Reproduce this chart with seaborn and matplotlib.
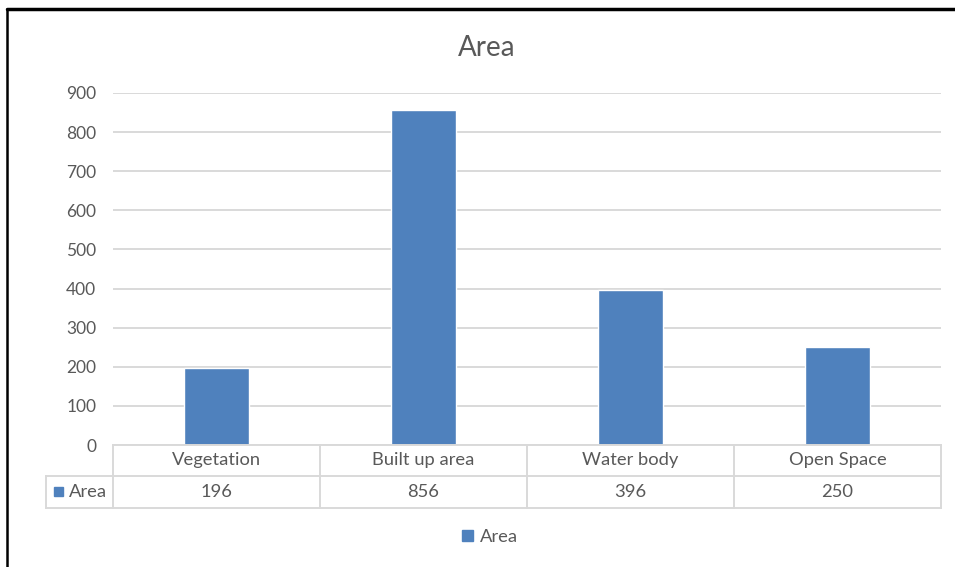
import matplotlib
matplotlib.use("Agg")
import matplotlib.pyplot as plt
import matplotlib.transforms as mtransforms
from matplotlib.lines import Line2D
from matplotlib.patches import Rectangle
import seaborn as sns
import pandas as pd

# Data
categories = ["Vegetation", "Built up area", "Water body", "Open Space"]
area_values = [196, 856, 396, 250]
y_ticks = [0, 100, 200, 300, 400, 500, 600, 700, 800, 900]
series_name = "Area"
chart_title = "Area"

# Styling
BAR = "#4f81bd"
TEXT = "#595959"
GRID = "#d9d9d9"
W, H = 955, 567

sns.set_theme(style="white")
plt.rcParams["font.family"] = ["Lato", "DejaVu Sans"]


def fx(x):
    return x / W


def fy(y):
    return 1 - y / H


fig = plt.figure(figsize=(W / 100, H / 100), dpi=100)
fig.patch.set_facecolor("white")

ax = fig.add_axes([fx(113), fy(445), fx(941) - fx(113), fy(93) - fy(445)])
df = pd.DataFrame({"Category": categories, series_name: area_values})
sns.barplot(data=df, x="Category", y=series_name, color=BAR, saturation=1,
            width=0.314, ax=ax, zorder=3)

ax.set_xlim(-0.5, len(categories) - 0.5)
ax.set_ylim(y_ticks[0], y_ticks[-1])
ax.set_yticks(y_ticks)
ax.set_xticks([])
ax.set_xlabel("")
ax.set_ylabel("")
ax.set_axisbelow(True)
ax.yaxis.grid(True, color=GRID, lw=1.4)
for s in ax.spines.values():
    s.set_visible(False)
ax.tick_params(axis="y", length=0, pad=12, labelsize=12.5, labelcolor=TEXT)

# Title
fig.text(fx(487), fy(48), chart_title, ha="center", va="center",
         fontsize=20, color=TEXT)

# Data table below the axis
blend = mtransforms.blended_transform_factory(ax.transData, fig.transFigure)
row_top, row_mid, row_bot = fy(445), fy(476), fy(508)
x_left, x_right = -0.5, len(categories) - 0.5
header_left = fx(46)

def line(xs, ys, transform):
    fig.add_artist(Line2D(xs, ys, color=GRID, lw=1.4, transform=transform,
                          solid_capstyle="projecting"))

line([x_left, x_right], [row_top, row_top], blend)
line([x_left, x_right], [row_mid, row_mid], blend)
line([x_left, x_right], [row_bot, row_bot], blend)
axis_left = ax.transData.transform((x_left, 0))[0] / W
line([header_left, axis_left], [row_mid, row_mid], fig.transFigure)
line([header_left, axis_left], [row_bot, row_bot], fig.transFigure)
line([header_left, header_left], [row_mid, row_bot], fig.transFigure)
for i in range(len(categories) + 1):
    xv = i - 0.5
    line([xv, xv], [row_top, row_bot], blend)

for i, (cat, val) in enumerate(zip(categories, area_values)):
    fig.text(i, (row_top + row_mid) / 2, cat, transform=blend, ha="center",
             va="center", fontsize=13.2, color=TEXT)
    fig.text(i, (row_mid + row_bot) / 2, f"{val}", transform=blend,
             ha="center", va="center", fontsize=13.2, color=TEXT)

# Series key in the table header cell
fig.add_artist(Rectangle((fx(54), fy(496)), fx(63) - fx(54), fy(487) - fy(496),
                         color=BAR, transform=fig.transFigure))
fig.text(fx(69), (row_mid + row_bot) / 2, series_name, ha="left", va="center",
         fontsize=13.2, color=TEXT)

# Legend
handle = Rectangle((0, 0), 1, 1, color=BAR)
fig.legend([handle], [series_name], loc="center", bbox_to_anchor=(fx(490), fy(537)),
           frameon=False, fontsize=13.2, labelcolor=TEXT, handlelength=0.6,
           handleheight=0.6, handletextpad=0.4)

# Outer frame
fig.add_artist(Line2D([fx(7), 1], [fy(9), fy(9)], color="black", lw=2.5,
                      transform=fig.transFigure))
fig.add_artist(Line2D([fx(7), fx(7)], [fy(9), 0], color="black", lw=1.8,
                      transform=fig.transFigure))

fig.savefig("out.png", dpi=100, facecolor="white")
